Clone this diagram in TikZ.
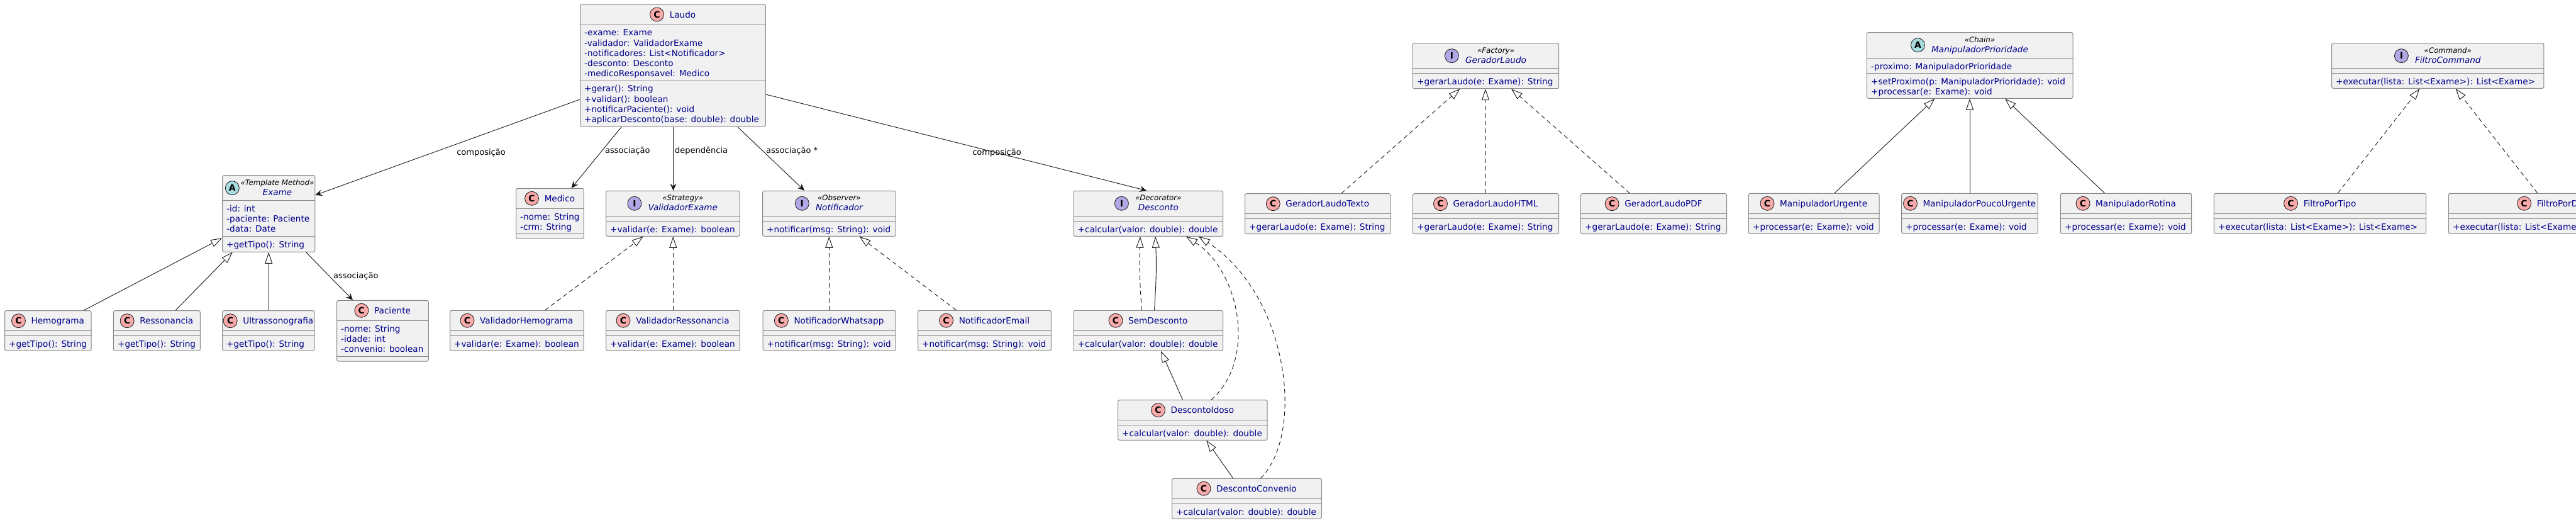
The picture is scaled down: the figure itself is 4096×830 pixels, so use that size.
\documentclass[tikz,border=0pt]{standalone}
\usepackage{fontspec}
\setmainfont{DejaVu Sans}
\usetikzlibrary{arrows.meta,fit,calc}
\definecolor{boxfill}{HTML}{F1F1F1}
\definecolor{boxline}{HTML}{888888}
\definecolor{txt}{HTML}{00008B}
\definecolor{cpink}{HTML}{F8AAAA}
\definecolor{acyan}{HTML}{A9DCDF}
\definecolor{ilav}{HTML}{B4A7E5}
\definecolor{edgec}{HTML}{181818}
\tikzset{
 classbox/.style={draw=boxline, fill=boxfill, line width=1pt, rounded corners=2.5pt, inner sep=0pt},
 sepline/.style={draw=boxline, line width=1pt},
 member/.style={font=\fontsize{13.6}{16}\selectfont, text=txt, inner sep=0pt, anchor=base west},
 cname/.style={font=\fontsize{13.6}{16}\selectfont, text=txt, inner sep=0pt, anchor=base},
 iname/.style={font=\fontsize{13.6}{16}\selectfont\itshape, text=txt, inner sep=0pt, anchor=base},
 stereo/.style={font=\fontsize{11.8}{14}\selectfont\itshape, text=black, inner sep=0pt, anchor=base},
 spot/.style={circle, draw=edgec, line width=0.8pt, minimum size=22pt, inner sep=0pt, font=\fontsize{14}{14}\selectfont\bfseries, text=black},
 elabel/.style={font=\fontsize{13}{15}\selectfont, text=black, inner sep=0pt},
 conn/.style={draw=edgec, line width=0.9pt},
 assoc/.style={conn, -{Stealth[length=11pt,width=10pt,inset=4pt]}},
 gen/.style={conn, -{Triangle[length=18pt,width=12pt,fill=white]}},
 real/.style={gen, dash pattern=on 7pt off 5pt},
}
% box: name, x1, y1, x2, y2
\newcommand\cbox[5]{\node[classbox, fit={(#2,#3) (#4,#5)}] (#1) {};}
% separator: box, y
\newcommand\hsep[2]{\draw[sepline] (#1.west |- 0,#2) -- (#1.east |- 0,#2);}
% member lines: prefix, x, first baseline, list
\newcommand\mlines[4]{\foreach \t [count=\i] in {#4} {\node[member] (#1\i) at (#2,{#3+(\i-1)*16.3}) {\t};}}
% simple class header: box, cx, baseline, name
\newcommand\chdr[4]{%
  \node[cname] (#1-n) at ({#2+15.5},#3) {#4};
  \node[spot, fill=cpink] (#1-s) at ([xshift=-20pt,yshift=5pt]#1-n.base west) {C};}
% stereotyped header: box, column centre, top, letter, fill, stereotype, name, gap
\newcommand\shdr[8]{%
  \node[stereo] (#1-st) at (#2,{#3+15.5}) {#6};
  \node[iname] (#1-n) at (#2,{#3+31.5}) {#7};
  \path let \p1=(#1-st.west), \p2=(#1-n.west) in ({min(\x1,\x2)-#8},{-(#3+20)*1pt}) node[spot, fill=#5] (#1-s) {#4};}
\begin{document}
\begin{tikzpicture}[x=1pt,y=-1pt]
\path[use as bounding box, fill=white] (0,0) rectangle (4096,830);
\clip (0,0) rectangle (4096,830);

% ---------- Laudo
\cbox{laudo}{922.7}{7}{1217.3}{201}
\hsep{laudo}{39}\hsep{laudo}{128}
\chdr{laudo}{1070}{28}{Laudo}
\mlines{laudo-a}{929}{56.7}{-exame: Exame,-validador: ValidadorExame,-notificadores: List<Notificador>,-desconto: Desconto,-medicoResponsavel: Medico}
\mlines{laudo-m}{929}{145.7}{+gerar(): String,+validar(): boolean,+notificarPaciente(): void,+aplicarDesconto(base: double): double}

% ---------- Exame
\cbox{exame}{353.6}{278.7}{500.9}{400.3}
\hsep{exame}{318.3}\hsep{exame}{375.3}
\shdr{exame}{441}{278.7}{A}{acyan}{«Template Method»}{Exame}{13pt}
\mlines{exame-a}{360}{336}{-id: int,-paciente: Paciente,-data: Date}
\mlines{exame-m}{360}{393}{+getTipo(): String}

\cbox{hemo}{7.6}{493.7}{145}{557.3}
\hsep{hemo}{525.3}\hsep{hemo}{533.3}
\chdr{hemo}{76.3}{514.7}{Hemograma}
\mlines{hemo-m}{14}{551}{+getTipo(): String}

\cbox{resso}{180.4}{493.7}{318.3}{557.3}
\hsep{resso}{525.3}\hsep{resso}{533.3}
\chdr{resso}{249.3}{514.7}{Ressonancia}
\mlines{resso-m}{187}{551}{+getTipo(): String}

\cbox{ultra}{353.6}{493.7}{500}{557.3}
\hsep{ultra}{525.3}\hsep{ultra}{533.3}
\chdr{ultra}{426.8}{514.7}{Ultrassonografia}
\mlines{ultra-m}{360}{551}{+getTipo(): String}

\cbox{paciente}{535.7}{477.3}{681.3}{574}
\hsep{paciente}{509.3}\hsep{paciente}{566.7}
\chdr{paciente}{608.5}{498.3}{Paciente}
\mlines{paciente-a}{542}{527}{-nome: String,-idade: int,-convenio: boolean}

% ---------- Medico
\cbox{medico}{820.6}{299.3}{928.2}{379.3}
\hsep{medico}{331.3}\hsep{medico}{371.7}
\chdr{medico}{874.4}{320.3}{Medico}
\mlines{medico-a}{827}{349}{-nome: String,-crm: String}

% ---------- ValidadorExame
\cbox{valexame}{963.5}{303.3}{1176}{375.3}
\hsep{valexame}{343.3}\hsep{valexame}{351.3}
\shdr{valexame}{1085.8}{303.3}{I}{ilav}{«Strategy»}{ValidadorExame}{21.5pt}
\mlines{valexame-m}{970}{369}{+validar(e: Exame): boolean}

\cbox{valhemo}{715.5}{493.3}{928}{557.3}
\hsep{valhemo}{525.3}\hsep{valhemo}{533.3}
\chdr{valhemo}{821.7}{514.3}{ValidadorHemograma}
\mlines{valhemo-m}{722}{551}{+validar(e: Exame): boolean}

\cbox{valresso}{963.7}{493.3}{1176.3}{557.3}
\hsep{valresso}{525.3}\hsep{valresso}{533.3}
\chdr{valresso}{1070}{514.3}{ValidadorRessonancia}
\mlines{valresso-m}{970}{551}{+validar(e: Exame): boolean}

% ---------- Notificador
\cbox{notif}{1212.6}{303.3}{1424.2}{375.3}
\hsep{notif}{343.3}\hsep{notif}{351.3}
\shdr{notif}{1334.4}{303.3}{I}{ilav}{«Observer»}{Notificador}{21.5pt}
\mlines{notif-m}{1219}{369}{+notificar(msg: String): void}

\cbox{whats}{1213.2}{493.3}{1423.9}{557.3}
\hsep{whats}{525.3}\hsep{whats}{533.3}
\chdr{whats}{1318.5}{514.3}{NotificadorWhatsapp}
\mlines{whats-m}{1219.5}{551}{+notificar(msg: String): void}

\cbox{email}{1459.5}{493.3}{1671.3}{557.3}
\hsep{email}{525.3}\hsep{email}{533.3}
\chdr{email}{1565.4}{514.3}{NotificadorEmail}
\mlines{email-m}{1466}{551}{+notificar(msg: String): void}

% ---------- Desconto
\cbox{desconto}{1707}{303.3}{1944.6}{375.3}
\hsep{desconto}{343.3}\hsep{desconto}{351.3}
\shdr{desconto}{1841.8}{303.3}{I}{ilav}{«Decorator»}{Desconto}{21.5pt}
\mlines{desconto-m}{1713.5}{369}{+calcular(valor: double): double}

\cbox{semdesc}{1707}{493.3}{1944.6}{557.3}
\hsep{semdesc}{525.3}\hsep{semdesc}{533.3}
\chdr{semdesc}{1825.8}{514.3}{SemDesconto}
\mlines{semdesc-m}{1713.5}{551}{+calcular(valor: double): double}

\cbox{idoso}{1777.6}{635.7}{2015.2}{699.3}
\hsep{idoso}{667.7}\hsep{idoso}{675.7}
\chdr{idoso}{1896.4}{656.7}{DescontoIdoso}
\mlines{idoso-m}{1784}{693.4}{+calcular(valor: double): double}

\cbox{conv}{1863.7}{760.3}{2101.3}{824.3}
\hsep{conv}{792.3}\hsep{conv}{800.3}
\chdr{conv}{1982.5}{781.3}{DescontoConvenio}
\mlines{conv-m}{1870}{818}{+calcular(valor: double): double}

% ---------- GeradorLaudo
\cbox{gerador}{2246.4}{68.7}{2478.6}{140.7}
\hsep{gerador}{108.7}\hsep{gerador}{116.7}
\shdr{gerador}{2378.5}{68.7}{I}{ilav}{«Factory»}{GeradorLaudo}{21.5pt}
\mlines{gerador-m}{2253}{134.4}{+gerarLaudo(e: Exame): String}

\cbox{gtexto}{1979.5}{307.7}{2211.2}{371.7}
\hsep{gtexto}{339.7}\hsep{gtexto}{347.7}
\chdr{gtexto}{2095.3}{328.7}{GeradorLaudoTexto}
\mlines{gtexto-m}{1986}{365.4}{+gerarLaudo(e: Exame): String}

\cbox{ghtml}{2246.4}{307.7}{2478.6}{371.7}
\hsep{ghtml}{339.7}\hsep{ghtml}{347.7}
\chdr{ghtml}{2362.5}{328.7}{GeradorLaudoHTML}
\mlines{ghtml-m}{2253}{365.4}{+gerarLaudo(e: Exame): String}

\cbox{gpdf}{2513.4}{307.7}{2745.6}{371.7}
\hsep{gpdf}{339.7}\hsep{gpdf}{347.7}
\chdr{gpdf}{2629.5}{328.7}{GeradorLaudoPDF}
\mlines{gpdf-m}{2520}{365.4}{+gerarLaudo(e: Exame): String}

% ---------- ManipuladorPrioridade
\cbox{manip}{2968.3}{51.7}{3296}{156.3}
\hsep{manip}{92.3}\hsep{manip}{116.3}
\shdr{manip}{3148}{51.7}{A}{acyan}{«Chain»}{ManipuladorPrioridade}{21.5pt}
\mlines{manip-a}{2975}{110}{-proximo: ManipuladorPrioridade}
\mlines{manip-m}{2975}{134}{+setProximo(p: ManipuladorPrioridade): void,+processar(e: Exame): void}

\cbox{murg}{2780.4}{307.3}{2988}{371.3}
\hsep{murg}{339.3}\hsep{murg}{347.3}
\chdr{murg}{2884.2}{328.3}{ManipuladorUrgente}
\mlines{murg-m}{2787}{365}{+processar(e: Exame): void}

\cbox{mpouco}{3023.7}{307.3}{3240.2}{371.3}
\hsep{mpouco}{339.3}\hsep{mpouco}{347.3}
\chdr{mpouco}{3131.9}{328.3}{ManipuladorPoucoUrgente}
\mlines{mpouco-m}{3030}{365}{+processar(e: Exame): void}

\cbox{mrot}{3276.3}{307.3}{3484.7}{371.3}
\hsep{mrot}{339.3}\hsep{mrot}{347.3}
\chdr{mrot}{3380.5}{328.3}{ManipuladorRotina}
\mlines{mrot-m}{3283}{365}{+processar(e: Exame): void}

% ---------- FiltroCommand
\cbox{filtro}{3707.7}{68.7}{4044.9}{140.3}
\hsep{filtro}{108.3}\hsep{filtro}{116.3}
\shdr{filtro}{3892.3}{68.7}{I}{ilav}{«Command»}{FiltroCommand}{21.5pt}
\mlines{filtro-m}{3714}{134}{+executar(lista: List<Exame>): List<Exame>}

\cbox{ftipo}{3520.4}{307.3}{3857.7}{371.3}
\hsep{ftipo}{339.3}\hsep{ftipo}{347.3}
\chdr{ftipo}{3689}{328.3}{FiltroPorTipo}
\mlines{ftipo-m}{3527}{365}{+executar(lista: List<Exame>): List<Exame>}

\cbox{fdata}{3893.4}{307.3}{4230.7}{371.3}
\hsep{fdata}{339.3}\hsep{fdata}{347.3}
\chdr{fdata}{4062}{328.3}{FiltroPorData}
\mlines{fdata-m}{3900}{365}{+executar(lista: List<Exame>): List<Exame>}

% ---------- connectors from Laudo
\draw[assoc] (laudo.west |- 0,158) -- (exame.east |- 0,310);
\node[elabel] (lbl-comp1) at (765,243) {composição};
\draw[assoc] (laudo.south -| 988.3,0) -- (medico.north -| 908.6,0);
\node[elabel, anchor=west] (lbl-assoc1) at (962,240) {associação};
\draw[assoc] (laudo.south -| 1070.5,0) -- (valexame.north -| 1070.5,0);
\node[elabel, anchor=west] (lbl-dep) at (1073,240) {dependência};
\draw[assoc] (laudo.south -| 1172.7,0) -- (notif.north -| 1279,0);
\node[elabel, anchor=west] (lbl-assoc2) at (1218,240) {associação *};
\draw[assoc] (laudo.east |- 0,150) -- (desconto.north -| 1823,0);
\node[elabel] (lbl-comp2) at (1585,243) {composição};

% ---------- Exame family
\draw[gen] (hemo.north -| 133,0) -- (exame.west |- 0,378.3);
\draw[gen] (resso.north -| 279,0) -- (exame.south -| 369.6,0);
\draw[gen] (ultra.north -| 427.2,0) -- (exame.south -| 427.2,0);
\draw[assoc] (exame.south -| 486.6,0) -- (paciente.north -| 561,0);
\node[elabel, anchor=west] (lbl-assoc3) at (530,439) {associação};

% ---------- realizations
\draw[real] (valhemo.north -| 866.7,0) -- (valexame.south -| 1022.7,0);
\draw[real] (valresso.north -| 1070.3,0) -- (valexame.south -| 1070.3,0);
\draw[real] (whats.north -| 1318.3,0) -- (notif.south -| 1318.3,0);
\draw[real] (email.north -| 1520.3,0) -- (notif.south -| 1366.5,0);

% ---------- Desconto family
\draw[real] (semdesc.north -| 1815.4,0) to[bend left=3] (desconto.south -| 1813,0);
\draw[gen] (semdesc.north -| 1835.5,0) to[bend right=3] (desconto.south -| 1837.2,0);
\draw[gen] (idoso.north -| 1880.5,0) -- (semdesc.south -| 1846,0);
\draw[real] (idoso.north -| 1926,0) .. controls (2000,570) and (1970,430) .. (desconto.south -| 1886,0);
\draw[real] (conv.north -| 2004.5,0) .. controls (2075,690) and (2050,470) .. (desconto.south -| 1906,0);
\draw[gen] (conv.north -| 1960.5,0) -- (idoso.south -| 1918.4,0);

% ---------- GeradorLaudo family
\draw[real] (gtexto.north -| 2133,0) -- (gerador.south -| 2321.4,0);
\draw[real] (ghtml.north -| 2362,0) -- (gerador.south -| 2362,0);
\draw[real] (gpdf.north -| 2591.5,0) -- (gerador.south -| 2403,0);

% ---------- ManipuladorPrioridade family
\draw[gen] (murg.north -| 2917,0) -- (manip.south -| 3076.3,0);
\draw[gen] (mpouco.north -| 3132,0) -- (manip.south -| 3132,0);
\draw[gen] (mrot.north -| 3346.4,0) -- (manip.south -| 3188,0);

% ---------- FiltroCommand family
\draw[real] (ftipo.north -| 3717.3,0) -- (filtro.south -| 3847.4,0);
\draw[real] (fdata.north -| 4034.7,0) -- (filtro.south -| 3904.6,0);
\end{tikzpicture}
\end{document}
